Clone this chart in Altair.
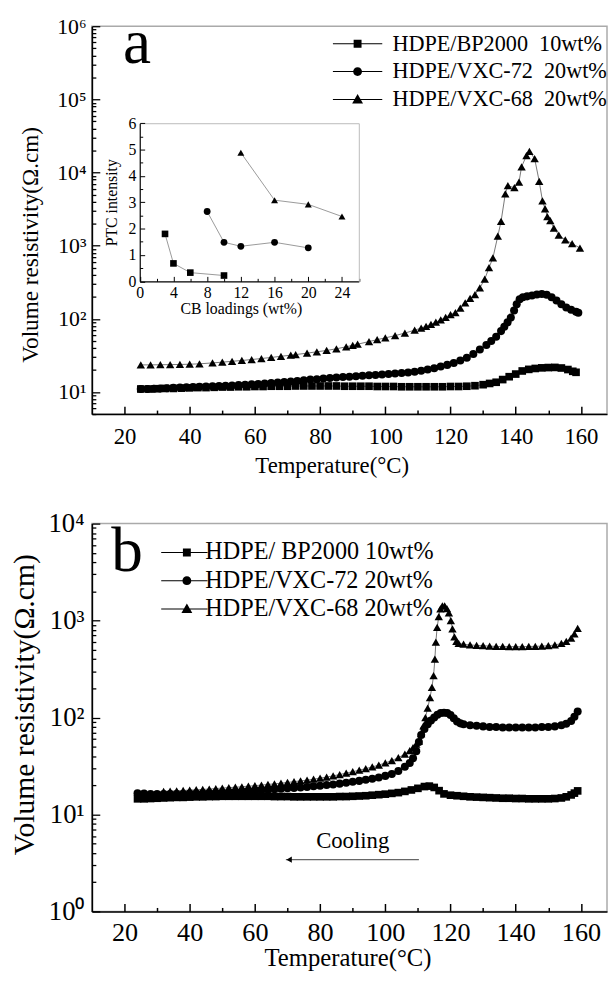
import altair as alt
import pandas as pd

FONT = "Liberation Serif"
W, H = 522, 393

series = ["BP2000", "VXC-72", "VXC-68"]
shapes = ["square", "circle", "triangle-up"]

# ---------------- panel a (heating) ----------------
a_sq_T = [25, 27.5, 30, 32.5, 35, 37.5, 40, 42.5, 45, 47.5,
          50, 52.5, 55, 57.5, 60, 62.5, 65, 67.5, 70, 72.5,
          75, 77.5, 80, 82.5, 85, 87.5, 90, 92.5, 95, 97.5,
          100, 102.5, 105, 107.5, 110, 112.5, 115, 117.5, 120, 122.5,
          125, 127.5, 130, 132, 134, 136, 138, 140, 142, 144,
          146, 148, 150, 152, 154, 156, 157.5, 158.5]
a_sq_R = [11.0, 11.0, 11.1, 11.2, 11.2, 11.3, 11.4, 11.5, 11.5, 11.6,
          11.7, 11.7, 11.8, 11.8, 11.9, 11.9, 12.0, 12.0, 12.0, 12.1,
          12.1, 12.1, 12.1, 12.1, 12.1, 12.0, 12.0, 12.0, 12.0, 11.9,
          11.9, 11.9, 11.8, 11.8, 11.8, 11.8, 11.8, 11.8, 11.9, 11.9,
          12.0, 12.2, 12.6, 13.1, 13.6, 14.8, 16.2, 17.6, 19.4, 20.4,
          21.0, 21.4, 21.6, 21.7, 21.3, 20.3, 19.2, 18.6]

a_ci_T = [25, 27, 29, 31, 33, 35, 37, 39, 41, 43,
          45, 47, 49, 51, 53, 55, 57, 59, 61, 63,
          65, 67, 69, 71, 73, 75, 77, 79, 81, 83,
          85, 87, 89, 91, 93, 95, 97, 99, 101, 103,
          105, 107, 109, 111, 113, 115, 117, 119, 121, 123,
          125, 127, 129, 131, 132.5, 134, 135.5, 136.5, 137.5, 138.5,
          139.5, 140.3, 141.2, 142.2, 143.5, 145, 146.5, 148, 149.5, 151,
          152.5, 154, 155.5, 157, 158.5, 159.2]
a_ci_R = [11.0, 11.0, 11.1, 11.2, 11.3, 11.4, 11.5, 11.6, 11.7, 11.8,
          11.9, 12.0, 12.1, 12.2, 12.3, 12.5, 12.6, 12.8, 12.9, 13.1,
          13.3, 13.5, 13.7, 13.9, 14.2, 14.5, 14.8, 15.0, 15.3, 15.5,
          15.8, 16.0, 16.2, 16.4, 16.7, 16.9, 17.1, 17.3, 17.6, 17.9,
          18.2, 18.5, 18.9, 19.5, 20.3, 21.2, 22.3, 23.5, 25.0, 27.0,
          29.5, 33, 38, 44, 50, 57, 68, 78, 90, 104,
          130, 158, 186, 198, 203, 208, 215, 218, 214, 198,
          178, 158, 143, 133, 125, 121]

a_tr_T = [25, 28, 31, 34, 37, 40, 43, 47, 50, 53,
          56, 59, 62, 65, 68, 71, 72.5, 76, 79, 82,
          85, 88, 90, 91.5, 95, 97.5, 100, 103, 106, 109,
          111, 112.5, 114, 115.5, 117, 118.5, 120, 121.5, 123, 124.5,
          126, 127.5, 129, 130.5, 131.8, 133, 134.5, 135.5, 136.8, 137.6,
          139.6, 141, 141.8, 143.3, 144.2, 145.8, 147.2, 148.2, 149, 149.7,
          150.6, 151.7, 153.2, 155.2, 157.3, 159.7]
a_tr_R = [23.5, 23.5, 23.6, 23.7, 23.8, 24.0, 24.3, 25.0, 25.6, 26.3,
          27.0, 27.8, 28.7, 29.7, 30.8, 31.9, 32.5, 34, 35.5, 37,
          39, 41.5, 43.5, 45, 49, 52, 55, 59, 64, 70,
          75, 79, 84, 90, 97, 105, 114, 122, 140, 165,
          190, 215, 265, 350, 500, 680, 1350, 2150, 5100, 6600,
          6200, 7400, 12000, 17000, 19500, 15500, 7600, 4100, 3200, 2500,
          2200, 1740, 1400, 1200, 1070, 930]

# inset: PTC intensity vs CB loading
in_sq_cb = [3, 4, 6, 10]
in_sq_ptc = [1.8, 0.68, 0.33, 0.22]
in_ci_cb = [8, 10, 12, 16, 20]
in_ci_ptc = [2.65, 1.48, 1.33, 1.48, 1.27]
in_tr_cb = [12, 16, 20, 24]
in_tr_ptc = [4.88, 3.08, 2.92, 2.46]

# ---------------- panel b (cooling) ----------------
b_sq_T = [24, 26, 28, 30, 32, 34, 36, 38, 40, 42,
          44, 46, 48, 50, 52, 54, 56, 58, 60, 62,
          64, 66, 68, 70, 72, 74, 76, 78, 80, 82,
          84, 86, 88, 90, 92, 94, 96, 98, 100, 102,
          104, 106, 108, 110, 112, 113.5, 115, 116.5, 118, 120,
          122, 124, 126, 128, 130, 132, 134, 136, 138, 140,
          142, 144, 146, 148, 150, 152, 154, 155.5, 157, 158,
          159]
b_sq_R = [14.5, 14.5, 14.6, 14.7, 14.8, 14.9, 15.0, 15.0, 15.1, 15.2,
          15.2, 15.3, 15.3, 15.4, 15.4, 15.4, 15.4, 15.4, 15.4, 15.4,
          15.4, 15.3, 15.3, 15.3, 15.2, 15.2, 15.2, 15.2, 15.2, 15.2,
          15.2, 15.3, 15.3, 15.4, 15.5, 15.6, 15.8, 16.0, 16.2, 16.5,
          16.8, 17.3, 17.9, 18.6, 19.4, 19.6, 19.0, 17.6, 16.3, 15.8,
          15.6, 15.4, 15.2, 15.1, 15.0, 14.9, 14.8, 14.7, 14.7, 14.6,
          14.6, 14.5, 14.5, 14.5, 14.5, 14.6, 14.8, 15.2, 15.9, 16.6,
          17.5]

b_ci_T = [24, 26, 28, 30, 32, 34, 36, 38, 40, 42,
          44, 46, 48, 50, 52, 54, 56, 58, 60, 62,
          64, 66, 68, 70, 72, 74, 76, 78, 80, 82,
          84, 86, 88, 90, 92, 94, 96, 98, 100, 102,
          104, 106, 107.5, 108.5, 109.5, 110.3, 111, 112, 113, 114,
          115, 116, 117, 118, 119, 120, 121, 122, 123, 124,
          126, 128, 130, 132, 134, 136, 138, 140, 142, 144,
          146, 148, 150, 152, 154, 155.5, 157, 158, 159]
b_ci_R = [16.5, 16.4, 16.3, 16.3, 16.3, 16.3, 16.3, 16.3, 16.4, 16.4,
          16.5, 16.6, 16.7, 16.8, 16.9, 17.0, 17.2, 17.4, 17.6, 17.8,
          18.0, 18.2, 18.4, 18.6, 18.8, 19.0, 19.2, 19.5, 19.8, 20.1,
          20.4, 20.8, 21.2, 21.7, 22.2, 22.8, 23.4, 24.1, 25.0, 26.2,
          28.0, 31, 34, 38, 45, 56, 66, 76, 85, 93,
          100, 107, 111, 112, 111, 106, 98, 91, 87, 85,
          83, 82, 81, 80, 80, 79, 79, 79, 79, 79,
          79, 80, 80, 81, 83, 86, 92, 102, 115]

b_tr_T = [32, 34, 36, 38, 40, 42, 44, 46, 48, 50,
          52, 54, 56, 58, 60, 62, 64, 66, 68, 70,
          72, 74, 76, 78, 80, 82, 84, 86, 88, 90,
          92, 94, 96, 98, 100, 102, 104, 106, 107.5, 108.5,
          109.5, 110.3, 111, 111.7, 112.3, 113, 113.7, 114.3, 114.8, 115.2,
          115.5, 115.9, 116.4, 116.9, 117.5, 118.2, 118.9, 119.5, 120.1, 120.6,
          121.2, 121.8, 122.5, 124, 126, 128, 130, 132, 134, 136,
          138, 140, 142, 144, 146, 148, 150, 152, 154, 155.5,
          157, 158, 159]
b_tr_R = [17.3, 17.4, 17.5, 17.7, 17.8, 18.0, 18.1, 18.3, 18.5, 18.7,
          18.9, 19.1, 19.3, 19.6, 19.8, 20.1, 20.4, 20.7, 21.0, 21.4,
          21.8, 22.2, 22.6, 23.1, 23.7, 24.3, 25.0, 25.8, 26.7, 27.6,
          28.6, 29.7, 30.9, 32.3, 34, 36, 38.5, 42, 45.5, 49,
          53, 57, 68, 82, 100, 125, 160, 205, 270, 400,
          600, 850, 1100, 1320, 1420, 1420, 1330, 1200, 1000, 820,
          680, 610, 580, 570, 560, 555, 550, 545, 540, 540,
          538, 538, 538, 540, 542, 545, 550, 560, 580, 610,
          660, 730, 830]

# annotation in panel b (data coordinates)
cool_T, cool_R = [90], [5.3]
arrow_T, arrow_T2, arrow_R = [69.5], [110.3], [3.42]
head_T = [70.5]

labels_a = ["HDPE/BP2000\u00a0 10wt%", "HDPE/VXC-72\u00a0 20wt%", "HDPE/VXC-68\u00a0 20wt%"]
labels_b = ["HDPE/ BP2000 10wt%", "HDPE/VXC-72 20wt%", "HDPE/VXC-68 20wt%"]
panel_letters = ["a", "b"]


def frame(T, R, key, xn="T", yn="R"):
    return pd.DataFrame({xn: T, yn: R, "s": key})


dfa = pd.concat([frame(a_sq_T, a_sq_R, series[0]), frame(a_ci_T, a_ci_R, series[1]),
                 frame(a_tr_T, a_tr_R, series[2])], ignore_index=True)
dfb = pd.concat([frame(b_sq_T, b_sq_R, series[0]), frame(b_ci_T, b_ci_R, series[1]),
                 frame(b_tr_T, b_tr_R, series[2])], ignore_index=True)
dfi = pd.concat([frame(in_sq_cb, in_sq_ptc, series[0], "cb", "ptc"),
                 frame(in_ci_cb, in_ci_ptc, series[1], "cb", "ptc"),
                 frame(in_tr_cb, in_tr_ptc, series[2], "cb", "ptc")], ignore_index=True)
df_cool = pd.DataFrame({"T": cool_T, "R": cool_R, "txt": ["Cooling"]})
df_arrow = pd.DataFrame({"T": arrow_T, "T2": arrow_T2, "R": arrow_R})
df_head = pd.DataFrame({"T": head_T, "R": arrow_R})

SUP = "['\u2070','\u00b9','\u00b2','\u00b3','\u2074','\u2075','\u2076']"
LABEXPR = "'10' + " + SUP + "[round(log(datum.value)/LN10)]"
MAJOR = "abs(log(datum.value)/LN10 - round(log(datum.value)/LN10)) < 0.001"


def log_vals(lo, hi):
    out = []
    for e in range(-1, 8):
        for m in range(1, 10):
            v = m * 10 ** e
            if lo <= v <= hi:
                out.append(v)
    return out


def main_axes(lab_x, lab_y, ttl_fx, ttl_fy, pad_lx, pad_ly, pad_tx, pad_ty, tx, ty, yvals):
    ax = alt.Axis(orient="bottom", values=list(range(20, 161, 20)), ticks=False, tickSize=0,
                  domainColor="black", domainWidth=1.6, labelFont=FONT, labelFontSize=lab_x,
                  labelColor="black", labelPadding=pad_lx, labelFlush=False, labelOverlap=False,
                  grid=False, title="Temperature(\u00b0C)", titleFont=FONT, titleFontSize=ttl_fx,
                  titleFontWeight="normal", titleColor="black", titlePadding=pad_tx, titleX=tx, zindex=1)
    ay = alt.Axis(orient="left", values=yvals, labelExpr=LABEXPR, ticks=False, tickSize=0,
                  domainColor="black", domainWidth=1.6, labelFont=FONT, labelFontSize=lab_y,
                  labelColor="black", labelPadding=pad_ly, labelFlush=False, labelOverlap=False,
                  grid=False, title="Volume resistivity(\u03a9.cm)", titleFont=FONT, titleFontSize=ttl_fy,
                  titleFontWeight="normal", titleColor="black", titlePadding=pad_ty, titleY=ty, zindex=1)
    return ax, ay


def tick_axes(ytick_vals):
    ax = alt.Axis(orient="top", offset=-H, values=list(range(20, 161, 10)), labels=False, domain=False,
                  grid=False, title=None, tickColor="black", tickWidth=1.5,
                  tickSize={"condition": {"test": "datum.value % 20 == 0", "value": 8}, "value": 4})
    ay = alt.Axis(orient="right", offset=-W, values=ytick_vals, labels=False, domain=False,
                  grid=False, title=None, tickColor="black", tickWidth=1.3,
                  tickSize={"condition": {"test": MAJOR, "value": 8}, "value": 4})
    return ax, ay


def lines(df, xs, ys, ax, ay):
    return alt.Chart(df).mark_line(color="#777777", strokeWidth=1).encode(
        x=alt.X("T:Q", scale=xs, axis=ax), y=alt.Y("R:Q", scale=ys, axis=ay), detail="s:N")


def points(df, xs, ys, ax, ay, sizes):
    return alt.Chart(df).mark_point(filled=True, opacity=1, color="black").encode(
        x=alt.X("T:Q", scale=xs, axis=ax), y=alt.Y("R:Q", scale=ys, axis=ay),
        shape=alt.Shape("s:N", scale=alt.Scale(domain=series, range=shapes), legend=None),
        size=alt.Size("s:N", scale=alt.Scale(domain=series, range=sizes), legend=None))


def legend_layer(df, labels, paths, lx, ly, loff, rpad, fsize):
    return alt.Chart(df).transform_filter("false").mark_point(
        filled=True, opacity=1, color="black").encode(
        shape=alt.Shape("label:N", scale=alt.Scale(domain=labels, range=paths),
                        legend=alt.Legend(title=None, orient="none", legendX=lx, legendY=ly,
                                          direction="vertical", labelFont=FONT, labelFontSize=fsize,
                                          labelColor="black", labelOffset=loff, labelLimit=600,
                                          symbolSize=400, symbolFillColor="black",
                                          symbolStrokeWidth=0, symbolOpacity=1,
                                          rowPadding=rpad, padding=0)))


def sym_paths(left, right):
    line = "M%s,-0.05H%sV0.05H%sZ" % (left, right, left)
    return [line + "M-0.4,-0.4H0.4V0.4H-0.4Z",
            line + "M-0.45,0A0.45,0.45,0,1,1,0.45,0A0.45,0.45,0,1,1,-0.45,0Z",
            line + "M0,-0.55L0.55,0.42L-0.55,0.42Z"]


def letter(txt, size, px, py):
    return alt.Chart(pd.DataFrame({"t": [txt]})).mark_text(
        font=FONT, fontSize=size, color="black", align="left", baseline="alphabetic", clip=True).encode(
        text="t:N", x=alt.value(px), y=alt.value(py))


# ---------------- build panel a ----------------
xs_a = alt.Scale(domain=[10, 168], nice=False, zero=False)
ys_a = alt.Scale(type="log", domain=[5, 1e6], nice=False)
axa, aya = main_axes(23, 22, 23, 23.5, 12, 6, 6, 14.5, 243, 221, [10, 100, 1000, 1e4, 1e5, 1e6])
txa, tya = tick_axes(log_vals(5, 1e6))

INS_L, INS_R, INS_T, INS_B = 48.5, 270.5, 98.3, 258.5
xs_i = alt.Scale(domain=[0, 26], range=[INS_L, INS_R], nice=False, zero=False)
ys_i = alt.Scale(domain=[0, 6], range=[INS_B, INS_T], nice=False, zero=False)

ins_ax = alt.Axis(orient="bottom", offset=INS_B - H, values=list(range(0, 25, 4)), ticks=False, tickSize=0,
                  domainColor="black", domainWidth=1.2, labelFont=FONT, labelFontSize=16, labelColor="black",
                  labelPadding=3, labelFlush=False, labelOverlap=False, grid=False,
                  title="CB loadings (wt%)", titleFont=FONT, titleFontSize=16, titleFontWeight="normal",
                  titleColor="black", titlePadding=1, titleX=151)
ins_ay = alt.Axis(orient="left", offset=-INS_L, values=list(range(0, 7)), ticks=False, tickSize=0,
                  domainColor="black", domainWidth=1.2, labelFont=FONT, labelFontSize=16, labelColor="black",
                  labelPadding=4, labelFlush=False, labelOverlap=False, grid=False,
                  title="PTC intensity", titleFont=FONT, titleFontSize=16, titleFontWeight="normal",
                  titleColor="black", titlePadding=9)
ins_tx = alt.Axis(orient="top", offset=-INS_B, values=list(range(0, 27, 2)), labels=False, domain=False,
                  grid=False, title=None, tickColor="black", tickWidth=1,
                  tickSize={"condition": {"test": "datum.value % 4 == 0", "value": 5}, "value": 3})
ins_ty = alt.Axis(orient="right", offset=INS_L - W, values=[v / 2 for v in range(0, 13)], labels=False,
                  domain=False, grid=False, title=None, tickColor="black", tickWidth=1,
                  tickSize={"condition": {"test": "datum.value % 1 == 0", "value": 5}, "value": 3})
ins_fx = alt.Axis(orient="top", offset=-INS_T, ticks=False, labels=False, domainColor="#bbbbbb",
                  domainWidth=1, grid=False, title=None)
ins_fy = alt.Axis(orient="right", offset=INS_R - W, ticks=False, labels=False, domainColor="#bbbbbb",
                  domainWidth=1, grid=False, title=None)

inset_lines = alt.Chart(dfi).mark_line(color="#999999", strokeWidth=1).encode(
    x=alt.X("cb:Q", scale=xs_i, axis=ins_ax), y=alt.Y("ptc:Q", scale=ys_i, axis=ins_ay), detail="s:N")
inset_points = alt.Chart(dfi).mark_point(filled=True, opacity=1, color="black").encode(
    x=alt.X("cb:Q", scale=xs_i, axis=ins_tx), y=alt.Y("ptc:Q", scale=ys_i, axis=ins_ty),
    shape=alt.Shape("s:N", scale=alt.Scale(domain=series, range=shapes), legend=None),
    size=alt.Size("s:N", scale=alt.Scale(domain=series, range=[45, 50, 60]), legend=None))
inset_frame = alt.Chart(dfi).mark_point(opacity=0).encode(
    x=alt.X("cb:Q", scale=xs_i, axis=ins_fx), y=alt.Y("ptc:Q", scale=ys_i, axis=ins_fy))

panel_a = alt.layer(
    lines(dfa, xs_a, ys_a, axa, aya),
    points(dfa, xs_a, ys_a, txa, tya, [60, 72, 100]),
    legend_layer(dfa, labels_a, sym_paths(-2.5, 2.5), 258, 6.5, 24, 5.2, 22.5),
    inset_lines, inset_points, inset_frame,
    letter(panel_letters[0], 64, 31.5, 37.5),
).resolve_scale(x="independent", y="independent", shape="independent", size="independent").properties(
    width=W, height=H)

# ---------------- build panel b ----------------
xs_b = alt.Scale(domain=[10, 168], nice=False, zero=False)
ys_b = alt.Scale(type="log", domain=[1, 1e4], nice=False)
axb, ayb = main_axes(26.5, 27, 25, 30, 8, 8, 0, 9.2, 259, 183, [1, 10, 100, 1000, 1e4])
txb, tyb = tick_axes(log_vals(1, 1e4))

cool_text = alt.Chart(df_cool).mark_text(font=FONT, fontSize=23, color="black", baseline="middle",
                                         align="center").encode(
    x=alt.X("T:Q", scale=xs_b, axis=None), y=alt.Y("R:Q", scale=ys_b, axis=None), text="txt:N")
arrow = alt.Chart(df_arrow).mark_rule(color="#666666", strokeWidth=1.3).encode(
    x=alt.X("T:Q", scale=xs_b, axis=None), x2="T2:Q", y=alt.Y("R:Q", scale=ys_b, axis=None))
head = alt.Chart(df_head).mark_point(shape="triangle-left", filled=True, opacity=1, color="black",
                                     size=40).encode(
    x=alt.X("T:Q", scale=xs_b, axis=None), y=alt.Y("R:Q", scale=ys_b, axis=None))

panel_b = alt.layer(
    lines(dfb, xs_b, ys_b, axb, ayb),
    points(dfb, xs_b, ys_b, txb, tyb, [60, 72, 90]),
    legend_layer(dfb, labels_b, sym_paths(-2.6, 2.1), 84, 17, 6.5, 3.6, 24.5),
    cool_text, arrow, head,
    letter(panel_letters[1], 64, 19.5, 48),
).resolve_scale(shape="independent", size="independent").resolve_axis(
    x="independent", y="independent").properties(width=W, height=H)

chart = alt.vconcat(panel_a, panel_b, spacing=31).properties(
    padding={"left": 0, "top": 0, "right": 0, "bottom": 0}
).configure_view(stroke="#aaaaaa", strokeWidth=1.5)

chart.save("out.html", embed_options={"renderer": "svg", "actions": False})
